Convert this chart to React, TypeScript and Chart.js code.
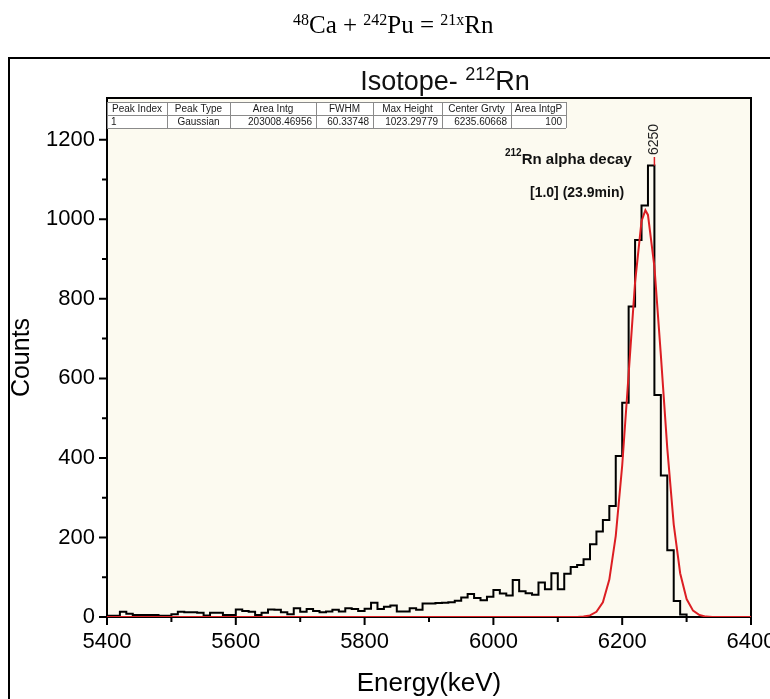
import React, { useEffect, useRef } from 'react';
import { Chart, registerables } from 'chart.js';

Chart.register(...registerables);

type Seg = { t: string; sup?: boolean };

// ---------- text content ----------
const pageHeading: Seg[] = [
  { t: '48', sup: true }, { t: 'Ca + ' }, { t: '242', sup: true }, { t: 'Pu = ' }, { t: '21x', sup: true }, { t: 'Rn' },
];
const chartTitle: Seg[] = [{ t: 'Isotope- ' }, { t: '212', sup: true }, { t: 'Rn' }];
const decayLabel: Seg[] = [{ t: '212', sup: true }, { t: 'Rn alpha decay' }];
const decayInfo = '[1.0] (23.9min)';
const peakEnergy = 6250;
const peakLabel = '6250';
const xTitle = 'Energy(keV)';
const yTitle = 'Counts';

// ---------- histogram data (10 keV bins starting at 5400 keV) ----------
const binStart = 5400;
const binWidth = 10;
const counts = [
  3, 3, 13, 8, 5, 5, 5, 5, 3, 3, // 5400-5490
  7, 13, 12, 12, 11, 4, 11, 11, 5, 5, // 5500-5590
  19, 15, 13, 5, 11, 19, 18, 12, 7, 22, // 5600-5690
  13, 20, 15, 12, 14, 18, 14, 22, 20, 15, // 5700-5790
  21, 36, 20, 26, 29, 14, 14, 22, 18, 34, // 5800-5890
  34, 35, 36, 37, 41, 49, 58, 48, 42, 51, // 5900-5990
  68, 59, 54, 93, 65, 60, 56, 87, 70, 110, // 6000-6090
  70, 109, 126, 131, 145, 183, 215, 244, 279, 405, // 6100-6190
  539, 781, 948, 1035, 1135, 558, 356, 168, 40, 6, // 6200-6290
  0, 0, 0, 0, 0, 0, 0, 0, 0, 0, // 6300-6390
];

// ---------- Gaussian fit curve ----------
const fitEnergy = [5400, 6130, 6140, 6150, 6160, 6170, 6180, 6190, 6200, 6210, 6220, 6230, 6236, 6240, 6250, 6260, 6270, 6280, 6290, 6300, 6310, 6320, 6330, 6340, 6400];
const fitCounts = [0, 0, 1, 4, 13, 37, 94, 204, 381, 611, 842, 995, 1023, 1011, 881, 659, 424, 233, 110, 45, 16, 5, 1, 0, 0];

// ---------- axes ----------
const xMin = 5400;
const xMax = 6400;
const yMin = 0;
const yMax = 1305;
const xTicks = [5400, 5600, 5800, 6000, 6200, 6400];
const xMinorTicks = [5500, 5700, 5900, 6100, 6300];
const yTicks = [0, 200, 400, 600, 800, 1000, 1200];
const yMinorTicks = [100, 300, 500, 700, 900, 1100];

// ---------- fit result table ----------
const tableHeader = ['Peak Index', 'Peak Type', 'Area Intg', 'FWHM', 'Max Height', 'Center Grvty', 'Area IntgP'];
const tableRow = ['1', 'Gaussian', '203008.46956', '60.33748', '1023.29779', '6235.60668', '100'];

// ---------- styles ----------
const SANS = '"Liberation Sans", Arial, sans-serif';
const SERIF = '"Liberation Serif", "Times New Roman", serif';
const PLOT_BG = '#fcfaf0';
const RED = '#dc1e23';

function drawRich(
  ctx: CanvasRenderingContext2D, segs: Seg[], x: number, y: number,
  font: string, supFont: string, rise: number, align: 'left' | 'center',
) {
  ctx.save();
  ctx.textBaseline = 'alphabetic';
  ctx.textAlign = 'left';
  const widths = segs.map((s) => { ctx.font = s.sup ? supFont : font; return ctx.measureText(s.t).width; });
  const total = widths.reduce((a, b) => a + b, 0);
  let cx = align === 'center' ? x - total / 2 : x;
  segs.forEach((s, i) => {
    ctx.font = s.sup ? supFont : font;
    ctx.fillText(s.t, cx, s.sup ? y - rise : y);
    cx += widths[i];
  });
  ctx.restore();
}

const decorPlugin = {
  id: 'decor',
  beforeDraw(chart: any) {
    const { ctx, chartArea: a } = chart;
    ctx.save();
    ctx.fillStyle = '#ffffff';
    ctx.fillRect(0, 0, chart.width, chart.height);
    ctx.fillStyle = PLOT_BG;
    ctx.fillRect(a.left, a.top, a.right - a.left, a.bottom - a.top);
    // outer frame
    ctx.strokeStyle = '#000';
    ctx.lineWidth = 2;
    ctx.strokeRect(9, 58, 1000, 1000);
    ctx.fillStyle = '#000';
    drawRich(ctx, pageHeading, 293, 33, `25px ${SERIF}`, `16px ${SERIF}`, 8, 'left');
    ctx.fillStyle = '#111';
    drawRich(ctx, chartTitle, 445, 90, `27px ${SANS}`, `18px ${SANS}`, 10, 'center');
    ctx.restore();
  },
  beforeDatasetsDraw(chart: any) {
    const { ctx, chartArea: a, scales } = chart;
    const xs = scales.x;
    const ys = scales.y;
    ctx.save();
    ctx.strokeStyle = '#000';
    ctx.lineWidth = 2;
    ctx.strokeRect(a.left, a.top, a.right - a.left, a.bottom - a.top);
    ctx.beginPath();
    xTicks.forEach((v) => { const p = xs.getPixelForValue(v); ctx.moveTo(p, a.bottom); ctx.lineTo(p, a.bottom + 8); });
    xMinorTicks.forEach((v) => { const p = xs.getPixelForValue(v); ctx.moveTo(p, a.bottom); ctx.lineTo(p, a.bottom + 5); });
    yTicks.forEach((v) => { const p = ys.getPixelForValue(v); ctx.moveTo(a.left, p); ctx.lineTo(a.left - 8, p); });
    yMinorTicks.forEach((v) => { const p = ys.getPixelForValue(v); ctx.moveTo(a.left, p); ctx.lineTo(a.left - 5, p); });
    ctx.stroke();
    ctx.restore();
  },
  afterDatasetsDraw(chart: any) {
    const { ctx, scales } = chart;
    const xs = scales.x;
    const ys = scales.y;
    ctx.save();
    // fit results table
    const colX = [107, 167, 230, 316, 373, 442, 511, 566];
    const rowY = [102, 115, 128];
    ctx.fillStyle = '#ffffff';
    ctx.fillRect(colX[0] + 1, rowY[0], colX[7] - colX[0] - 1, rowY[2] - rowY[0]);
    ctx.strokeStyle = '#8a8a8a';
    ctx.lineWidth = 1;
    ctx.beginPath();
    rowY.forEach((y) => { ctx.moveTo(colX[0], y + 0.5); ctx.lineTo(colX[7], y + 0.5); });
    colX.forEach((x) => { ctx.moveTo(x + 0.5, rowY[0]); ctx.lineTo(x + 0.5, rowY[2]); });
    ctx.stroke();
    ctx.fillStyle = '#1a1a1a';
    ctx.font = `10px ${SANS}`;
    ctx.textBaseline = 'middle';
    const aligns = ['left', 'center', 'right', 'right', 'right', 'right', 'right'];
    tableHeader.forEach((t, i) => {
      ctx.textAlign = 'center';
      ctx.fillText(t, (colX[i] + colX[i + 1]) / 2, (rowY[0] + rowY[1]) / 2 + 1);
    });
    tableRow.forEach((t, i) => {
      const al = aligns[i];
      ctx.textAlign = al as CanvasTextAlign;
      const x = al === 'left' ? colX[i] + 4 : al === 'right' ? colX[i + 1] - 4 : (colX[i] + colX[i + 1]) / 2;
      ctx.fillText(t, x, (rowY[1] + rowY[2]) / 2 + 1);
    });

    // decay annotation
    ctx.fillStyle = '#111';
    drawRich(ctx, decayLabel, 505, 164, `bold 15px ${SANS}`, `bold 10px ${SANS}`, 8, 'left');
    ctx.font = `bold 14px ${SANS}`;
    ctx.textAlign = 'left';
    ctx.textBaseline = 'alphabetic';
    ctx.fillText(decayInfo, 530, 197);

    // peak marker
    const px = xs.getPixelForValue(peakEnergy);
    const peakIdx = Math.round((peakEnergy - binStart) / binWidth) - 1;
    const py = ys.getPixelForValue(counts[peakIdx]);
    ctx.strokeStyle = RED;
    ctx.lineWidth = 1.5;
    ctx.beginPath();
    ctx.moveTo(px, 157);
    ctx.lineTo(px, py);
    ctx.stroke();
    ctx.save();
    ctx.translate(px, 155);
    ctx.rotate(-Math.PI / 2);
    ctx.fillStyle = '#222';
    ctx.font = `14px ${SANS}`;
    ctx.textAlign = 'left';
    ctx.textBaseline = 'middle';
    ctx.fillText(peakLabel, 0, 0);
    ctx.restore();
    ctx.restore();
  },
};

export default function App() {
  const ref = useRef<HTMLCanvasElement>(null);
  useEffect(() => {
    const histPoints = counts.map((c, i) => ({ x: binStart + i * binWidth, y: c }));
    histPoints.push({ x: binStart + counts.length * binWidth, y: counts[counts.length - 1] });
    const fitPoints = fitEnergy.map((e, i) => ({ x: e, y: fitCounts[i] }));
    const tickFont = { family: SANS, size: 22 };
    const plain = (v: any) => String(v);
    const chart = new Chart(ref.current as HTMLCanvasElement, {
      type: 'line',
      data: {
        datasets: [
          {
            label: 'Gaussian fit', data: fitPoints, borderColor: RED, borderWidth: 2,
            pointRadius: 0, tension: 0, fill: false, order: 0,
          },
          {
            label: 'Counts', data: histPoints, borderColor: '#000', borderWidth: 2,
            pointRadius: 0, stepped: 'before', fill: false, order: 1,
          },
        ],
      } as any,
      options: {
        responsive: false,
        animation: false,
        devicePixelRatio: 1,
        layout: { padding: { left: 0, top: 98, right: 19, bottom: 0 } },
        plugins: { legend: { display: false }, tooltip: { enabled: false }, title: { display: false } },
        scales: {
          x: {
            type: 'linear', min: xMin, max: xMax,
            afterBuildTicks: (s: any) => { s.ticks = xTicks.map((v) => ({ value: v })); },
            afterFit: (s: any) => { s.height = 82; s.paddingLeft = 0; s.paddingRight = 0; },
            grid: { display: false, drawTicks: false },
            border: { display: false },
            ticks: { font: tickFont, color: '#000', padding: 12, maxRotation: 0, autoSkip: false, callback: plain },
            title: { display: true, text: xTitle, color: '#000', font: { family: SANS, size: 26, lineHeight: 1 }, padding: { top: 0, bottom: 2 } },
          },
          y: {
            type: 'linear', min: yMin, max: yMax,
            afterBuildTicks: (s: any) => { s.ticks = yTicks.map((v) => ({ value: v })); },
            afterFit: (s: any) => { s.width = 107; s.paddingTop = 0; s.paddingBottom = 0; },
            grid: { display: false, drawTicks: false },
            border: { display: false },
            ticks: { font: tickFont, color: '#000', padding: 12, autoSkip: false, callback: plain },
            title: { display: true, text: yTitle, color: '#000', font: { family: SANS, size: 25, lineHeight: 1 }, padding: { top: 10, bottom: 0 } },
          },
        },
      } as any,
      plugins: [decorPlugin],
    });
    return () => chart.destroy();
  }, []);
  return (
    <div style={{ position: 'absolute', left: 0, top: 0, width: 770, height: 699 }}>
      <canvas ref={ref} width={770} height={699} style={{ width: 770, height: 699, display: 'block' }} />
    </div>
  );
}
